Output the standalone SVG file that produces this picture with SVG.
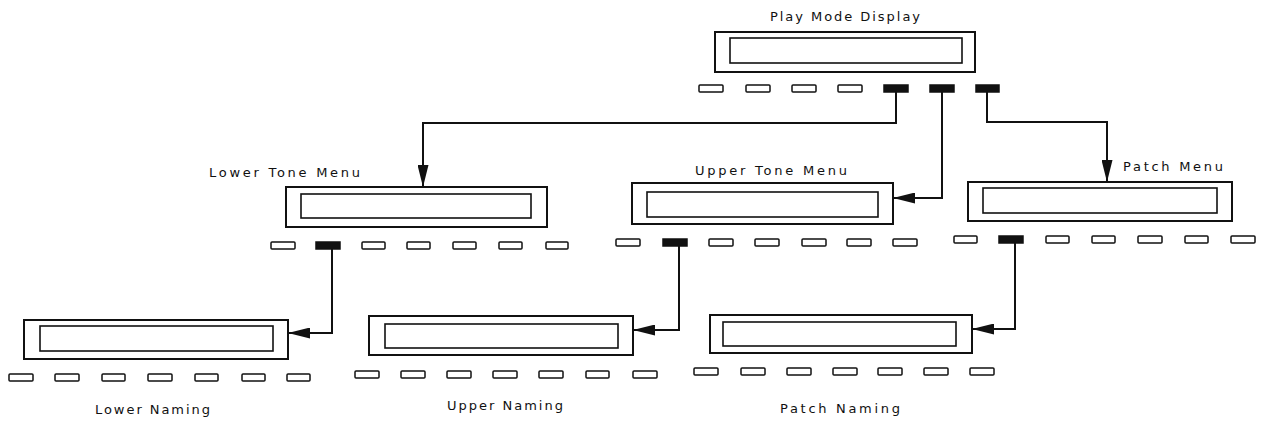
<svg xmlns="http://www.w3.org/2000/svg" width="1262" height="421" viewBox="0 0 1262 421">
<style>
.lbl{font-family:"DejaVu Sans","Liberation Sans",Arial,sans-serif;font-size:13px;fill:#111}
.outer{fill:none;stroke:#111;stroke-width:2}
.inner{fill:none;stroke:#111;stroke-width:1.6}
.btn{fill:#fff;stroke:#111;stroke-width:1.5}
.btn-on{fill:#111;stroke:#111;stroke-width:1.5}
.conn{fill:none;stroke:#111;stroke-width:2}
</style>
<defs>
<marker id="arr" viewBox="0 0 22 11" refX="22" refY="5.5" markerWidth="22" markerHeight="11" markerUnits="userSpaceOnUse" orient="auto">
<path d="M0,0 L22,5.5 L0,11 z" fill="#111"/>
</marker>
</defs>
<rect width="1262" height="421" fill="#fff"/>

<g id="play-mode-display">
<text class="lbl" x="770" y="21" textLength="150" lengthAdjust="spacing">Play Mode Display</text>
<rect class="outer" x="715" y="32" width="260" height="40"/>
<rect class="inner" x="730" y="38" width="232" height="25"/>
<rect class="btn" x="699" y="85" width="24" height="7" rx="1"/>
<rect class="btn" x="746" y="85" width="24" height="7" rx="1"/>
<rect class="btn" x="792" y="85" width="24" height="7" rx="1"/>
<rect class="btn" x="838" y="85" width="24" height="7" rx="1"/>
<rect class="btn-on" x="884" y="85" width="24" height="7"/>
<rect class="btn-on" x="930" y="85" width="24" height="7"/>
<rect class="btn-on" x="976" y="85" width="23" height="7"/>
</g>

<g id="lower-tone-menu">
<text class="lbl" x="209" y="177" textLength="151" lengthAdjust="spacing">Lower Tone Menu</text>
<rect class="outer" x="286" y="187" width="261" height="40"/>
<rect class="inner" x="301" y="194" width="230" height="24"/>
<rect class="btn" x="271" y="242" width="24" height="7" rx="1"/>
<rect class="btn-on" x="316" y="242" width="24" height="7"/>
<rect class="btn" x="362" y="242" width="23" height="7" rx="1"/>
<rect class="btn" x="407" y="242" width="23" height="7" rx="1"/>
<rect class="btn" x="453" y="242" width="23" height="7" rx="1"/>
<rect class="btn" x="499" y="242" width="23" height="7" rx="1"/>
<rect class="btn" x="546" y="242" width="22" height="7" rx="1"/>
</g>

<g id="upper-tone-menu">
<text class="lbl" x="695" y="175" textLength="152" lengthAdjust="spacing">Upper Tone Menu</text>
<rect class="outer" x="632" y="183" width="261" height="41"/>
<rect class="inner" x="647" y="192" width="231" height="25"/>
<rect class="btn" x="616" y="239" width="24" height="7" rx="1"/>
<rect class="btn-on" x="663" y="239" width="24" height="7"/>
<rect class="btn" x="709" y="239" width="24" height="7" rx="1"/>
<rect class="btn" x="755" y="239" width="24" height="7" rx="1"/>
<rect class="btn" x="802" y="239" width="24" height="7" rx="1"/>
<rect class="btn" x="847" y="239" width="24" height="7" rx="1"/>
<rect class="btn" x="893" y="239" width="24" height="7" rx="1"/>
</g>

<g id="patch-menu">
<text class="lbl" x="1123" y="171" textLength="100" lengthAdjust="spacing">Patch Menu</text>
<rect class="outer" x="968" y="182" width="264" height="39"/>
<rect class="inner" x="983" y="188" width="234" height="25"/>
<rect class="btn" x="954" y="236" width="23" height="7" rx="1"/>
<rect class="btn-on" x="999" y="236" width="24" height="7"/>
<rect class="btn" x="1046" y="236" width="23" height="7" rx="1"/>
<rect class="btn" x="1092" y="236" width="23" height="7" rx="1"/>
<rect class="btn" x="1138" y="236" width="24" height="7" rx="1"/>
<rect class="btn" x="1185" y="236" width="23" height="7" rx="1"/>
<rect class="btn" x="1231" y="236" width="24" height="7" rx="1"/>
</g>

<g id="lower-naming">
<rect class="outer" x="24" y="320" width="264" height="39"/>
<rect class="inner" x="40" y="326" width="233" height="25"/>
<rect class="btn" x="9" y="374" width="24" height="7" rx="1"/>
<rect class="btn" x="55" y="374" width="24" height="7" rx="1"/>
<rect class="btn" x="102" y="374" width="23" height="7" rx="1"/>
<rect class="btn" x="148" y="374" width="24" height="7" rx="1"/>
<rect class="btn" x="195" y="374" width="23" height="7" rx="1"/>
<rect class="btn" x="242" y="374" width="23" height="7" rx="1"/>
<rect class="btn" x="287" y="374" width="23" height="7" rx="1"/>
<text class="lbl" x="95" y="414" textLength="115" lengthAdjust="spacing">Lower Naming</text>
</g>

<g id="upper-naming">
<rect class="outer" x="369" y="316" width="264" height="39"/>
<rect class="inner" x="385" y="324" width="233" height="24"/>
<rect class="btn" x="355" y="371" width="24" height="7" rx="1"/>
<rect class="btn" x="401" y="371" width="24" height="7" rx="1"/>
<rect class="btn" x="447" y="371" width="24" height="7" rx="1"/>
<rect class="btn" x="493" y="371" width="24" height="7" rx="1"/>
<rect class="btn" x="539" y="371" width="24" height="7" rx="1"/>
<rect class="btn" x="586" y="371" width="23" height="7" rx="1"/>
<rect class="btn" x="633" y="371" width="24" height="7" rx="1"/>
<text class="lbl" x="447" y="410" textLength="116" lengthAdjust="spacing">Upper Naming</text>
</g>

<g id="patch-naming">
<rect class="outer" x="710" y="315" width="262" height="38"/>
<rect class="inner" x="723" y="322" width="233" height="24"/>
<rect class="btn" x="694" y="368" width="24" height="7" rx="1"/>
<rect class="btn" x="741" y="368" width="24" height="7" rx="1"/>
<rect class="btn" x="787" y="368" width="24" height="7" rx="1"/>
<rect class="btn" x="833" y="368" width="24" height="7" rx="1"/>
<rect class="btn" x="878" y="368" width="24" height="7" rx="1"/>
<rect class="btn" x="924" y="368" width="24" height="7" rx="1"/>
<rect class="btn" x="970" y="368" width="24" height="7" rx="1"/>
<text class="lbl" x="780" y="413" textLength="120" lengthAdjust="spacing">Patch Naming</text>
</g>

<g id="connectors">
<path class="conn" d="M896,92 V123 H423 V187" marker-end="url(#arr)"/>
<path class="conn" d="M942,92 V198 H893" marker-end="url(#arr)"/>
<path class="conn" d="M987,92 V122 H1107 V182" marker-end="url(#arr)"/>
<path class="conn" d="M332,249 V333 H288" marker-end="url(#arr)"/>
<path class="conn" d="M679,246 V330 H633" marker-end="url(#arr)"/>
<path class="conn" d="M1015,243 V329 H972" marker-end="url(#arr)"/>
</g>
</svg>
